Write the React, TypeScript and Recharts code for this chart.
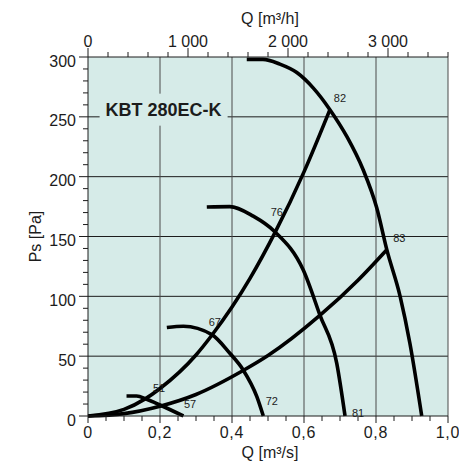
import React from 'react';
import { LineChart, Line, XAxis, YAxis, CartesianGrid, ReferenceLine, ReferenceDot } from 'recharts';

// fan curves, Q [m³/s] against Ps [Pa]
const fanCurve1 = [
  { q: 0.441, p: 298 }, { q: 0.486, p: 298 }, { q: 0.533, p: 294 }, { q: 0.58, p: 287 },
  { q: 0.626, p: 274 }, { q: 0.672, p: 256 }, { q: 0.72, p: 233 }, { q: 0.764, p: 206 },
  { q: 0.802, p: 174 }, { q: 0.83, p: 139 }, { q: 0.867, p: 100 }, { q: 0.894, p: 61 },
  { q: 0.927, p: 0 },
];
const fanCurve2 = [
  { q: 0.33, p: 174.6 }, { q: 0.394, p: 175 }, { q: 0.459, p: 167 }, { q: 0.519, p: 154 },
  { q: 0.598, p: 122 }, { q: 0.644, p: 84.5 }, { q: 0.691, p: 44 }, { q: 0.714, p: 0 },
];
const fanCurve3 = [
  { q: 0.219, p: 74 }, { q: 0.265, p: 75 }, { q: 0.344, p: 68 }, { q: 0.394, p: 52.4 },
  { q: 0.431, p: 38.5 }, { q: 0.469, p: 16.2 }, { q: 0.487, p: 0 },
];
const fanCurve4 = [
  { q: 0.107, p: 16.7 }, { q: 0.135, p: 16.7 }, { q: 0.163, p: 14 }, { q: 0.2, p: 9.2 },
  { q: 0.265, p: 0 },
];

// system curves
const systemSteep = [
  { q: 0, p: 0 }, { q: 0.1, p: 5.5 }, { q: 0.16, p: 14.5 }, { q: 0.2, p: 23 }, { q: 0.3, p: 51 },
  { q: 0.344, p: 67.5 }, { q: 0.4, p: 91 }, { q: 0.45, p: 115 }, { q: 0.519, p: 153 },
  { q: 0.6, p: 204 }, { q: 0.672, p: 256 },
];
const systemFlat = [
  { q: 0, p: 0 }, { q: 0.1, p: 2 }, { q: 0.2, p: 8.2 }, { q: 0.3, p: 18 }, { q: 0.431, p: 38 },
  { q: 0.5, p: 50.5 }, { q: 0.644, p: 84 }, { q: 0.75, p: 113.5 }, { q: 0.83, p: 139 },
];

const fanCurves = [fanCurve1, fanCurve2, fanCurve3, fanCurve4];
const systemCurves = [systemSteep, systemFlat];

// marker values and the curve points they belong to
const markerText = ['82', '83', '76', '67', '51', '72', '81', '57'];
const markerQ = [0.672, 0.83, 0.519, 0.344, 0.16, 0.487, 0.714, 0.265];
const markerP = [256, 139, 154, 68, 14.5, 0, 0, 0];
const markerOffset: Record<string, [number, number]> = {
  '82': [10, -12], '83': [12.5, -12], '76': [2, -19.5], '67': [3, -13],
  '51': [13.5, -11], '72': [8.5, -15], '81': [13, -3.5], '57': [6.6, -12],
};

const modelName = 'KBT 280EC-K';
const M3S_TO_M3H = 3600;
const qTicks = Array.from({ length: 21 }, (_, i) => i * 0.05);
const qhTicks = Array.from({ length: 19 }, (_, i) => i * 200);
const psTicks = Array.from({ length: 31 }, (_, i) => i * 10);
const qGrid = [0.2, 0.4, 0.6, 0.8, 1.0];
const psGrid = [50, 100, 150, 200, 250];

// the largest curve again in m³/h, so the top axis has data of its own
const fanCurve1Hourly = fanCurve1.map((d) => ({ qh: d.q * M3S_TO_M3H, p: d.p }));

const FONT = '"Liberation Sans", Arial, sans-serif';
const BG = '#d6ebe8';
const INK = '#1c1c1c';

const fmtQ = (v: number) => (v === 0 ? '0' : v.toFixed(1).replace('.', ','));
const fmtQh = (v: number) => (v === 0 ? '0' : v.toLocaleString('en-US').replace(',', ' '));

const BottomTick = (props: any) => {
  const { x, y, payload } = props;
  const major = Math.round(payload.value * 100) % 20 === 0;
  return (
    <g>
      <line x1={x} x2={x} y1={y} y2={y + (major ? 7 : 5)} stroke={INK} />
      {major && (
        <text x={x} y={y + 16} textAnchor="middle" dominantBaseline="central" fontSize={16} fontFamily={FONT} fill={INK} letterSpacing={0.8}>
          {fmtQ(payload.value)}
        </text>
      )}
    </g>
  );
};

const TopTick = (props: any) => {
  const { x, y, payload } = props;
  const major = payload.value % 1000 === 0;
  return (
    <g>
      <line x1={x} x2={x} y1={y} y2={y - (major ? 9 : 5)} stroke={INK} />
      {major && (
        <text x={x} y={y - 16} textAnchor="middle" dominantBaseline="central" fontSize={16} fontFamily={FONT} fill={INK}>
          {fmtQh(payload.value)}
        </text>
      )}
    </g>
  );
};

const LeftTick = (props: any) => {
  const { x, y, payload } = props;
  const major = payload.value % 50 === 0;
  return (
    <g>
      <line x1={x - (major ? 9 : 5)} x2={x} y1={y} y2={y} stroke={INK} />
      {major && (
        <text x={x - 12} y={y + 4} textAnchor="end" dominantBaseline="central" fontSize={16} fontFamily={FONT} fill={INK}>
          {payload.value}
        </text>
      )}
    </g>
  );
};

const axisTitle = (text: string, dx: number, dy: number, rotate = false) => (props: any) => {
  const vb = props.viewBox;
  const cx = vb.x + vb.width / 2 + dx;
  const cy = vb.y + dy;
  return (
    <text
      x={cx}
      y={cy}
      textAnchor="middle"
      dominantBaseline="central"
      fontSize={16}
      fontFamily={FONT}
      fill={INK}
      transform={rotate ? `rotate(-90 ${cx} ${cy})` : undefined}
    >
      {text}
    </text>
  );
};

export default function App() {
  return (
    <div style={{ position: 'absolute', left: 0, top: 0, width: 459, height: 463, background: '#fff' }}>
      <LineChart width={459} height={463} margin={{ top: 0, right: 11, bottom: 0, left: 0 }}>
        <CartesianGrid horizontal={false} vertical={false} fill={BG} fillOpacity={1} stroke="none" />
        <XAxis
          xAxisId="s"
          dataKey="q"
          type="number"
          domain={[0, 1]}
          ticks={qTicks}
          interval={0}
          height={47}
          tickSize={0}
          tickMargin={0}
          tickLine={false}
          tick={BottomTick}
          axisLine={{ stroke: INK }}
          label={{ content: axisTitle('Q [m³/s]', 2, 36) }}
        />
        <XAxis
          xAxisId="h"
          dataKey="qh"
          orientation="top"
          type="number"
          domain={[0, 3600]}
          ticks={qhTicks}
          interval={0}
          height={57}
          tickSize={0}
          tickMargin={0}
          tickLine={false}
          tick={TopTick}
          axisLine={{ stroke: INK }}
          label={{ content: axisTitle('Q [m³/h]', 2, 18) }}
        />
        <YAxis
          type="number"
          domain={[0, 300]}
          ticks={psTicks}
          interval={0}
          width={88}
          tickSize={0}
          tickMargin={0}
          tickLine={false}
          tick={LeftTick}
          axisLine={{ stroke: INK }}
          label={{ content: (props: any) => axisTitle('Ps [Pa]', 0, 0, true)({ viewBox: { x: 0, y: props.viewBox.y + props.viewBox.height / 2, width: 70 } }) }}
        />
        {psGrid.map((v) => (
          <ReferenceLine key={'h' + v} xAxisId="s" y={v} stroke={INK} strokeWidth={1} />
        ))}
        {qGrid.map((v) => (
          <ReferenceLine key={'v' + v} xAxisId="s" x={v} stroke="#4a4a4a" strokeWidth={1} />
        ))}
        <ReferenceDot
          xAxisId="s"
          x={0.21}
          y={256}
          r={1}
          fill="none"
          stroke="none"
          label={{
            content: (props: any) => {
              const vb = props.viewBox;
              const cx = vb.x + vb.width / 2;
              const cy = vb.y + vb.height / 2;
              return (
                <g>
                  <rect x={cx - 64} y={cy - 16} width={128} height={32} fill={BG} />
                  <text x={cx} y={cy} textAnchor="middle" dominantBaseline="central" fontSize={18} fontWeight="bold" fontFamily={FONT} fill={INK}>
                    {modelName}
                  </text>
                </g>
              );
            },
          }}
        />
        <Line
          xAxisId="h"
          data={fanCurve1Hourly}
          dataKey="p"
          type="monotone"
          stroke="none"
          dot={false}
          activeDot={false}
          legendType="none"
          isAnimationActive={false}
        />
        {fanCurves.map((d, i) => (
          <Line
            key={'f' + i}
            xAxisId="s"
            data={d}
            dataKey="p"
            type="monotone"
            stroke="#000"
            strokeWidth={3.6}
            dot={false}
            activeDot={false}
            isAnimationActive={false}
          />
        ))}
        {systemCurves.map((d, i) => (
          <Line
            key={'s' + i}
            xAxisId="s"
            data={d}
            dataKey="p"
            type="monotone"
            stroke="#000"
            strokeWidth={3.6}
            dot={false}
            activeDot={false}
            isAnimationActive={false}
          />
        ))}
        {markerText.map((t, i) => (
          <ReferenceDot
            key={'m' + t}
            xAxisId="s"
            x={markerQ[i]}
            y={markerP[i]}
            r={1}
            fill="none"
            stroke="none"
            label={{
              content: (props: any) => {
                const vb = props.viewBox;
                const [dx, dy] = markerOffset[t];
                return (
                  <text
                    x={vb.x + vb.width / 2 + dx}
                    y={vb.y + vb.height / 2 + dy}
                    textAnchor="middle"
                    dominantBaseline="central"
                    fontSize={11}
                    fontFamily={FONT}
                    fill={INK}
                  >
                    {t}
                  </text>
                );
              },
            }}
          />
        ))}
      </LineChart>
    </div>
  );
}
